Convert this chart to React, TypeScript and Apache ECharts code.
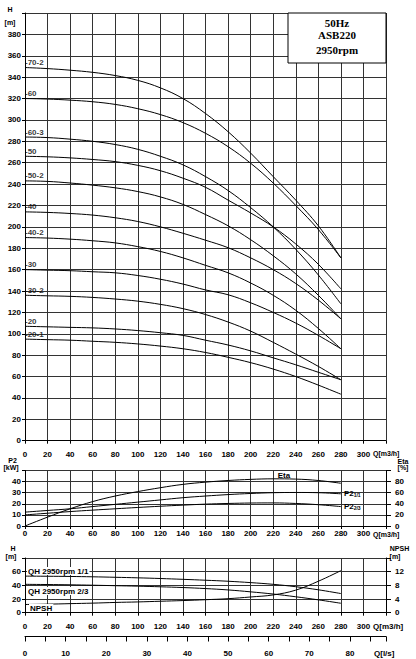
import React, { useEffect, useRef } from 'react';
import * as echarts from 'echarts';

// Flow rate Q [m3/h] sample points shared by all curves
const flowQ = [0, 20, 40, 60, 80, 100, 120, 140, 160, 180, 200, 220, 240, 260, 280];

// Head curves H [m] (top panel)
const head70_2 = [349, 348, 346.5, 344.5, 341.5, 337, 330, 320, 306, 289, 269, 247, 225, 201, 171];
const head60 = [320, 319.5, 318.5, 317, 314.5, 310.5, 305, 297.5, 287.5, 275, 259.5, 241, 220, 197.5, 171];
const head60_3 = [284, 283.5, 282, 280, 277, 272.5, 266, 258, 247, 234, 218, 200, 179, 155, 128];
const head50 = [266, 265.5, 264.5, 263, 261, 257.5, 252.5, 245.5, 237, 225, 213, 200, 184, 165, 142];
const head50_2 = [243, 242.5, 241, 239, 236.5, 233, 228, 221, 211.5, 201, 188, 173, 156, 136, 114];
const head40 = [214, 213.5, 212.5, 211, 208.5, 205, 200, 194, 187.5, 180.5, 171, 160, 147, 131.5, 114];
const head40_2 = [190, 189.5, 188.5, 187, 185, 181.5, 177, 171, 164, 157, 147.5, 136, 122, 105, 86];
const head30 = [160, 159.5, 159, 158, 157, 154.5, 151, 146.5, 141, 136.5, 129, 120, 110, 98.5, 86];
const head30_2 = [136, 135.5, 135, 134, 132.5, 130.5, 127.5, 123.5, 118, 111, 102.5, 92, 81, 69.5, 57];
const head20 = [107, 106.5, 106, 105.5, 104.5, 103, 101, 98.5, 94, 89.5, 84, 77.5, 71, 64, 57];
const head20_1 = [95, 94.5, 94, 93, 92, 90.5, 88.5, 86, 82.5, 78, 73, 67, 60, 52, 43.5];

const curveNames = ['-70-2', '-60', '-60-3', '-50', '-50-2', '-40', '-40-2', '-30', '-30-2', '-20', '-20-1'];
const headCurves = [head70_2, head60, head60_3, head50, head50_2, head40, head40_2, head30, head30_2, head20, head20_1];

// Middle panel: efficiency [%] and shaft power [kW]
const etaPct = [0, 16, 31, 44, 54, 62, 69, 75, 79, 82, 84, 85, 84.5, 82, 77];
const p2Full = [12.5, 14, 15.5, 17.5, 19.5, 21.5, 23.5, 25.5, 27, 28.3, 29.3, 30, 30.2, 30, 29];
const p2Two = [10, 11.5, 13, 14.3, 15.5, 16.7, 17.8, 18.8, 19.7, 20.3, 20.7, 20.8, 20.3, 19.2, 17.5];

// Bottom panel: QH [m] and NPSH [m]
const qhFull = [53.5, 53.3, 53, 52.5, 51.8, 51, 50, 48.8, 47.5, 46, 44, 41.5, 38, 33.5, 28];
const qhTwo = [41.5, 41.2, 40.8, 40.2, 39.5, 38.8, 37.9, 36.8, 35.3, 33.3, 30.5, 27.3, 23.3, 18.8, 13.8];
const npsh = [2.4, 2.5, 2.65, 2.8, 3.0, 3.15, 3.35, 3.55, 3.8, 4.1, 4.6, 5.2, 6.6, 9.2, 12.3];

const infoLines = ['50Hz', 'ASB220', '2950rpm'];

const FONT = "'Liberation Sans', Arial, sans-serif";
const SERIF = "'Liberation Serif', serif";
const GRID = '#333';

const pairs = (ys: number[]) => flowQ.map((q, i) => [q, ys[i]]);

const tickFont = { color: '#000', fontSize: 8, fontWeight: 'bold' as const, fontFamily: FONT };

function qAxis(gridIndex: number, margin: number) {
  return {
    type: 'value', gridIndex, min: 0, max: 320, interval: 20,
    axisLine: { show: true, onZero: false, lineStyle: { color: '#000', width: 1 } },
    axisTick: { show: true, length: 3, lineStyle: { color: '#000' } },
    axisLabel: { ...tickFont, margin, formatter: (v: number) => (v >= 320 ? '' : String(v)) },
    splitLine: { show: true, lineStyle: { color: GRID, width: 1 } },
  };
}

function leftAxis(gridIndex: number, max: number, interval: number) {
  return {
    type: 'value', gridIndex, position: 'left', min: 0, max, interval,
    axisLine: { show: true, onZero: false, lineStyle: { color: '#000', width: 1 } },
    axisTick: { show: true, length: 3, lineStyle: { color: '#000' } },
    axisLabel: { ...tickFont, margin: 4, formatter: (v: number) => (v >= max ? '' : String(v)) },
    splitLine: { show: true, lineStyle: { color: GRID, width: 1 } },
  };
}

function rightAxis(gridIndex: number, max: number, interval: number) {
  return {
    type: 'value', gridIndex, position: 'right', min: 0, max, interval,
    axisLine: { show: true, onZero: false, lineStyle: { color: '#000', width: 1 } },
    axisTick: { show: true, length: 5, lineStyle: { color: '#000' } },
    axisLabel: { ...tickFont, margin: 9, formatter: (v: number) => (v >= max ? '' : String(v)) },
    splitLine: { show: false },
  };
}

const lineStyle = { color: '#000', width: 1 };

function txt(text: string, x: number, y: number, align = 'center', size = 8, font = FONT, bg?: string) {
  return {
    type: 'text', x, y, z: 101,
    style: {
      text, fill: '#000', font: `bold ${size}px ${font}`, align, verticalAlign: 'middle',
      ...(bg ? { backgroundColor: bg, padding: [0, 1] } : {}),
    },
  };
}

export default function App() {
  const ref = useRef<HTMLDivElement>(null);
  useEffect(() => {
    if (!ref.current) return;
    const chart = echarts.init(ref.current, undefined, { renderer: 'svg' });

    const series: any[] = [];
    headCurves.forEach((ys, i) => {
      series.push({
        type: 'line', name: curveNames[i], xAxisIndex: 0, yAxisIndex: 0,
        data: pairs(ys), smooth: 0.4, symbol: 'none', lineStyle, silent: true,
      });
    });
    series.push({
      type: 'scatter', xAxisIndex: 0, yAxisIndex: 0, symbolSize: 0, silent: true,
      data: headCurves.map((ys, i) => [flowQ[0], ys[0], curveNames[i]]),
      label: {
        show: true, position: 'top', align: 'left', distance: 1,
        formatter: (p: any) => p.value[2], ...tickFont,
      },
    });
    series.push({
      type: 'line', name: 'Eta', xAxisIndex: 1, yAxisIndex: 2, data: pairs(etaPct),
      smooth: 0.4, symbol: 'none', lineStyle, silent: true,
    });
    const subRich = {
      a: { fontSize: 8, fontWeight: 'bold', fontFamily: FONT, color: '#000' },
      b: { fontSize: 5, fontWeight: 'bold', fontFamily: FONT, color: '#000', padding: [3, 0, 0, 0] },
    };
    series.push({
      type: 'line', name: 'P2 1/1', xAxisIndex: 1, yAxisIndex: 1, data: pairs(p2Full),
      smooth: 0.4, symbol: 'none', lineStyle, silent: true,
      endLabel: { show: true, distance: 3, formatter: '{a|P2}{b|1/1}', rich: subRich },
    });
    series.push({
      type: 'line', name: 'P2 2/3', xAxisIndex: 1, yAxisIndex: 1, data: pairs(p2Two),
      smooth: 0.4, symbol: 'none', lineStyle, silent: true,
      endLabel: { show: true, distance: 3, formatter: '{a|P2}{b|2/3}', rich: subRich },
    });
    series.push({
      type: 'line', name: 'QH 1/1', xAxisIndex: 2, yAxisIndex: 3, data: pairs(qhFull),
      smooth: 0.4, symbol: 'none', lineStyle, silent: true,
    });
    series.push({
      type: 'line', name: 'QH 2/3', xAxisIndex: 2, yAxisIndex: 3, data: pairs(qhTwo),
      smooth: 0.4, symbol: 'none', lineStyle, silent: true,
    });
    series.push({
      type: 'line', name: 'NPSH', xAxisIndex: 2, yAxisIndex: 4, data: pairs(npsh),
      smooth: 0.4, symbol: 'none', lineStyle, silent: true,
    });

    const option: any = {
      animation: false,
      backgroundColor: '#fff',
      grid: [
        { left: 25, top: 13, width: 361, height: 427.7 },
        { left: 25, top: 470.5, width: 361, height: 55.5 },
        { left: 25, top: 558, width: 361, height: 54.7 },
        { left: 25, top: 635.5, width: 361, height: 1 },
      ],
      xAxis: [
        qAxis(0, 10),
        qAxis(1, 3),
        qAxis(2, 9.5),
        {
          type: 'value', gridIndex: 3, min: 0, max: 320 / 3.6, interval: 5,
          axisLine: { show: true, onZero: false, lineStyle: { color: '#000', width: 1 } },
          axisTick: { show: true, length: 5, lineStyle: { color: '#000' } },
          axisLabel: {
            ...tickFont, margin: 12.5,
            formatter: (v: number) => (Math.abs(v % 10) < 1e-6 && v < 85 ? String(Math.round(v)) : ''),
          },
          splitLine: { show: false },
        },
      ],
      yAxis: [
        leftAxis(0, 400, 20),
        leftAxis(1, 50, 10),
        rightAxis(1, 100, 20),
        leftAxis(2, 80, 20),
        rightAxis(2, 16, 4),
        { type: 'value', gridIndex: 3, min: 0, max: 1, show: false },
      ],
      series,
      graphic: [
        { type: 'rect', z: 100, shape: { x: 288, y: 13, width: 98, height: 50 }, style: { fill: '#fff', stroke: '#000', lineWidth: 1 } },
        txt(infoLines[0], 337, 23, 'center', 11, SERIF),
        txt(infoLines[1], 337, 35, 'center', 11, SERIF),
        txt(infoLines[2], 337, 50, 'center', 11, SERIF),
        // top panel units
        txt('H', 10, 9.5, 'center', 7),
        txt('[m]', 10, 22.5, 'center', 7),
        txt('Q[m3/h]', 373, 453.5, 'left', 7),
        // middle panel
        txt('P2', 12.5, 460, 'center', 7),
        txt('[kW]', 11, 467, 'center', 7),
        txt('Eta', 403, 461, 'center', 7),
        txt('[%]', 403, 467.5, 'center', 7),
        txt('Eta', 284, 475, 'center', 8),
        txt('Q[m3/h]', 373, 534.5, 'left', 7),
        // bottom panel
        txt('H', 13, 548.5, 'center', 7),
        txt('[m]', 11, 556, 'center', 7),
        txt('NPSH', 399.5, 548.5, 'center', 7),
        txt('[m]', 395, 556, 'center', 7),
        txt('QH 2950rpm 1/1', 27, 571, 'left', 8, FONT, '#fff'),
        txt('QH 2950rpm 2/3', 27, 591, 'left', 8, FONT, '#fff'),
        txt('NPSH', 29, 608, 'left', 8, FONT, '#fff'),
        txt('Q[m3/h]', 373, 626.7, 'left', 8),
        txt('Q[l/s]', 374, 653, 'left', 8),
      ],
    };
    chart.setOption(option);
    return () => chart.dispose();
  }, []);
  return <div ref={ref} style={{ position: 'absolute', left: 0, top: 0, width: 416, height: 659 }} />;
}
